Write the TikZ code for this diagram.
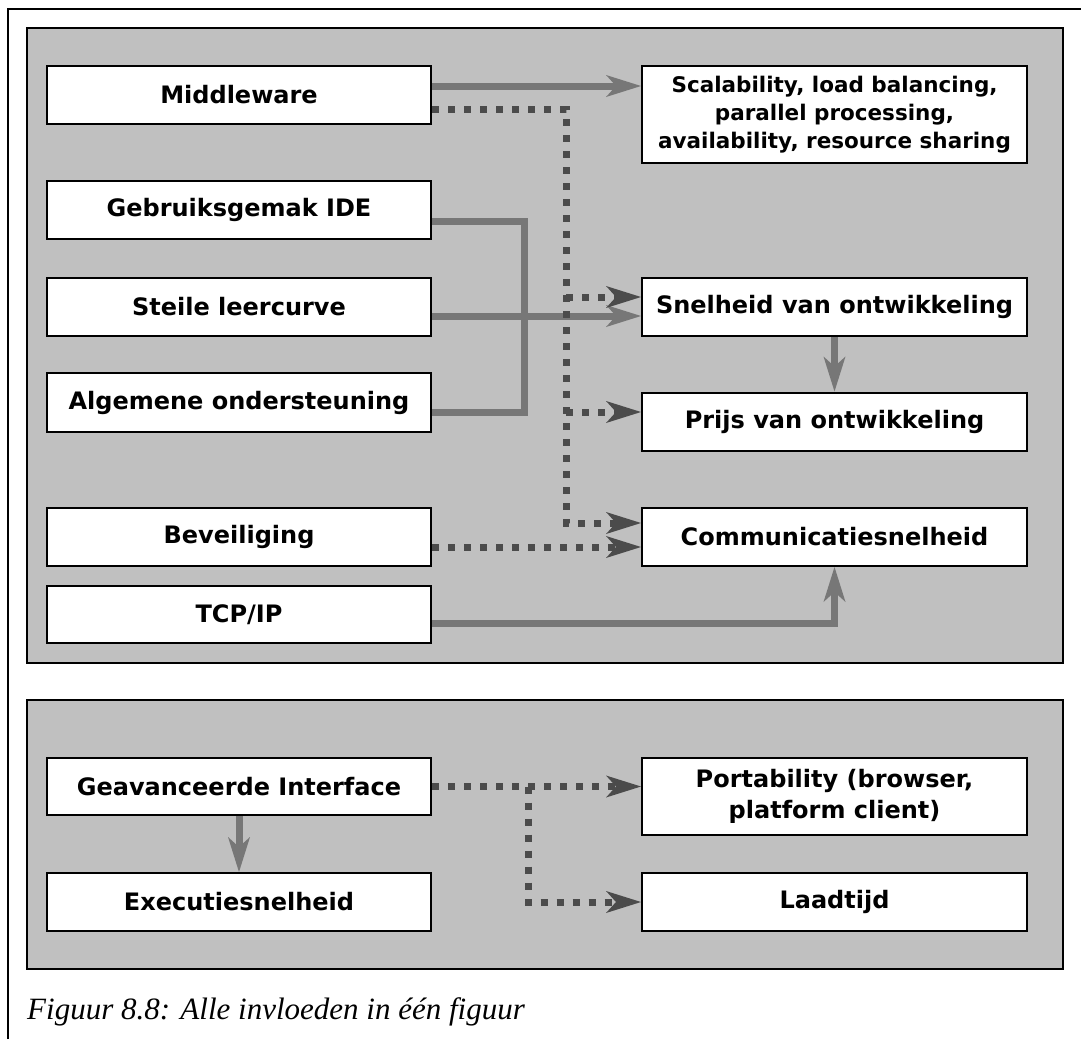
\documentclass[tikz,border=0pt]{standalone}
\usepackage{fontspec}
\setmainfont{DejaVu Sans}
\newfontfamily\captionserif{Liberation Serif}
\usetikzlibrary{arrows.meta,calc}
\definecolor{panelgray}{HTML}{C0C0C0}
\definecolor{flowgray}{HTML}{777777}
\definecolor{dotgray}{HTML}{4B4B4B}
\begin{document}
\begin{tikzpicture}[x=1pt,y=-1pt,
  panel/.style={draw=black,fill=panelgray,line width=2pt},
  factor/.style={draw=black,fill=white,line width=2pt,inner sep=0pt,
    minimum width=384pt,minimum height=58pt,align=center,
    font=\bfseries\fontsize{24}{31}\selectfont},
  tip/.style={-{Stealth[length=35pt,width=22pt,inset=10pt,line width=0pt]}},
  flow/.style={draw=flowgray,line width=7pt,line join=miter},
  flowarrow/.style={flow,tip},
  dotflow/.style={draw=dotgray,line width=7pt,dash pattern=on 7pt off 9pt},
  dotarrow/.style={dotflow,tip},
]
\useasboundingbox (0,0) rectangle (1081,1039);

% outer frame
\draw[line width=2pt] (8,1039) -- (8,9) -- (1081,9);

% panels
\draw[panel] (27,28) rectangle (1063,663);
\draw[panel] (27,700) rectangle (1063,969);

% left column
\node[factor] (mw)   at (239,95)    {Middleware};
\node[factor] (ide)  at (239,210)   {Gebruiksgemak IDE};
\node[factor] (leer) at (239,307)   {Steile leercurve};
\node[factor,minimum height=59pt] (alg) at (239,402.5) {Algemene ondersteuning};
\node[factor] (bev)  at (239,537)   {Beveiliging};
\node[factor,minimum height=57pt] (tcp) at (239,614.5) {TCP/IP};
\node[factor,minimum height=57pt] (gea) at (239,786.5) {Geavanceerde Interface};
\node[factor] (exe)  at (239,902)   {Executiesnelheid};

% right column
\node[factor,minimum width=385pt,minimum height=97pt,font=\bfseries\fontsize{21.5}{28}\selectfont] (scal) at (834.5,114.5)
  {Scalability, load balancing,\\parallel processing,\\availability, resource sharing};
\node[factor,minimum width=385pt] (snel)  at (834.5,307)   {Snelheid van ontwikkeling};
\node[factor,minimum width=385pt] (prijs) at (834.5,421.5) {Prijs van ontwikkeling};
\node[factor,minimum width=385pt] (comm)  at (834.5,537)   {Communicatiesnelheid};
\node[factor,minimum width=385pt,minimum height=77pt] (port) at (834.5,796.5)
  {Portability (browser,\\platform client)};
\node[factor,minimum width=385pt] (laad)  at (834.5,902)   {Laadtijd};

% solid influences
\draw[flowarrow] ($(mw.east)+(0,-9)$) coordinate (m1) -- (m1 -| scal.west);
\draw[flow] ($(ide.east)+(0,11)$) -- ++(92,0) |- ($(alg.east)+(0,9.5)$);
\draw[flowarrow] ($(leer.east)+(0,9)$) coordinate (l1) -- (l1 -| snel.west);
\draw[flowarrow] (snel.south) -- (prijs.north);
\draw[flowarrow] ($(tcp.east)+(0,8.5)$) -| (comm.south);
\draw[flowarrow] (gea.south) -- (exe.north);

% dotted influences
\coordinate (vx) at ($(mw.east)+(134,14)$);
\coordinate (c1) at ($(comm.west)+(0,-14)$);
\draw[dotarrow] ($(mw.east)+(0,14)$) -- (vx) |- (c1);
\coordinate (s1) at ($(snel.west)+(0,-10)$);
\draw[dotarrow] (vx |- s1) -- (s1);
\coordinate (p1) at ($(prijs.west)+(0,-9.5)$);
\draw[dotarrow] (vx |- p1) -- (p1);
\draw[dotarrow] ($(bev.east)+(0,10)$) coordinate (b1) -- (b1 -| comm.west);

\coordinate (g1) at ($(gea.east)+(96,0)$);
\draw[dotarrow] (gea.east) -- (gea.east -| port.west);
\draw[dotarrow] (g1) |- (laad.west);

% caption
\node[anchor=base west,inner sep=0pt,font=\captionserif\itshape\fontsize{31}{36}\selectfont] (cap) at (27,1019)
  {Figuur 8.8: Alle invloeden in één figuur};
\end{tikzpicture}
\end{document}
